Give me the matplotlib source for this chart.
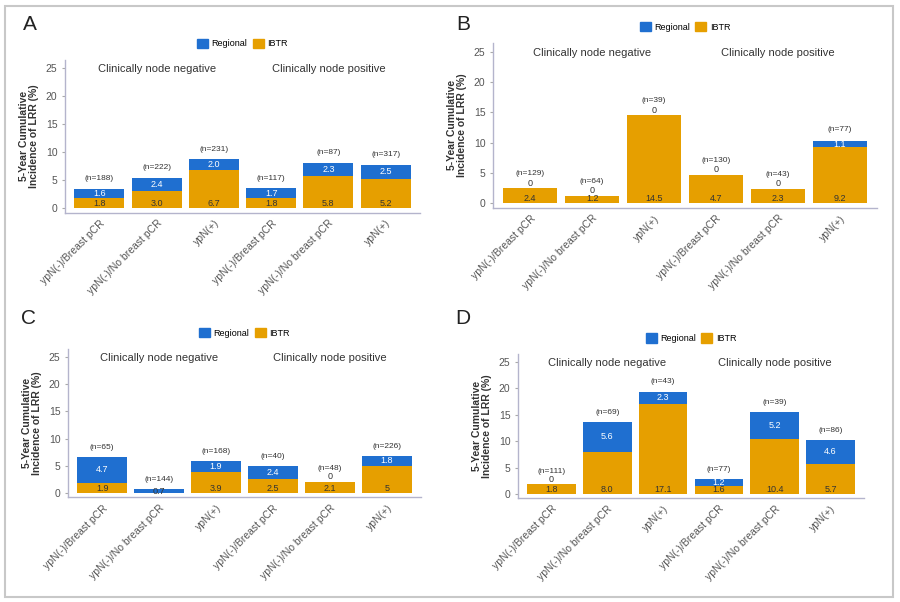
"""Four-panel stacked bar chart: 5-year cumulative incidence of LRR (IBTR + regional)."""
import matplotlib
matplotlib.use('Agg')
import matplotlib.pyplot as plt
import matplotlib.patches as patches
import numpy as np

plt.rcParams['font.family'] = ['Liberation Sans', 'DejaVu Sans']

# Data ---------------------------------------------------------------
categories = ['ypN(-)/Breast pCR', 'ypN(-)/No breast pCR', 'ypN(+)',
              'ypN(-)/Breast pCR', 'ypN(-)/No breast pCR', 'ypN(+)']
groups = ['Clinically node negative', 'Clinically node positive']

ibtr_a = [1.8, 3.0, 6.7, 1.8, 5.8, 5.2]
regional_a = [1.6, 2.4, 2.0, 1.7, 2.3, 2.5]
n_a = [188, 222, 231, 117, 87, 317]

ibtr_b = [2.4, 1.2, 14.5, 4.7, 2.3, 9.2]
regional_b = [0, 0, 0, 0, 0, 1.1]
n_b = [129, 64, 39, 130, 43, 77]

ibtr_c = [1.9, 0, 3.9, 2.5, 2.1, 5]
regional_c = [4.7, 0.7, 1.9, 2.4, 0, 1.8]
n_c = [65, 144, 168, 40, 48, 226]

ibtr_d = [1.8, 8.0, 17.1, 1.6, 10.4, 5.7]
regional_d = [0, 5.6, 2.3, 1.2, 5.2, 4.6]
n_d = [111, 69, 43, 77, 39, 86]

BLUE = '#1f6fd0'
ORANGE = '#e69f00'
W, H = 900, 602

fig = plt.figure(figsize=(9, 6.02), dpi=100)

# light outer frame
fig.patches.append(patches.Rectangle((5 / W, 5 / H), 888 / W, 591 / H,
                                     transform=fig.transFigure, fill=False,
                                     edgecolor='#c8c8c8', linewidth=1.5))


def fmt(v):
    return str(v) if isinstance(v, int) else f'{v:.1f}'


def panel(letter, ibtr, regional, n, left, right, top, bottom, letter_xy):
    ax = fig.add_axes([left / W, 1 - bottom / H, (right - left) / W, (bottom - top) / H])
    x = np.arange(len(categories))
    ax.bar(x, ibtr, width=0.87, color=ORANGE, zorder=2)
    ax.bar(x, regional, width=0.87, bottom=ibtr, color=BLUE, zorder=2)

    for i in range(len(x)):
        top_v = ibtr[i] + regional[i]
        if ibtr[i] > 0:
            ax.text(x[i], 0.8, fmt(ibtr[i]), ha='center', va='center',
                    fontsize=6.5, color='#333333', zorder=3)
        if regional[i] > 0:
            col = 'white' if regional[i] >= 1 else '#333333'
            ax.text(x[i], ibtr[i] + regional[i] / 2, fmt(regional[i]), ha='center',
                    va='center', fontsize=6.5, color=col, zorder=3)
            ax.text(x[i], top_v + 1.8, f'(n={n[i]})', ha='center', va='center',
                    fontsize=6, color='#333333')
        else:
            ax.text(x[i], top_v + 0.9, fmt(regional[i]), ha='center', va='center',
                    fontsize=6.5, color='#333333')
            ax.text(x[i], top_v + 2.4, f'(n={n[i]})', ha='center', va='center',
                    fontsize=6, color='#333333')

    for gi, g in enumerate(groups):
        ax.text(1 + 3 * gi, 24.8, g, ha='center', va='center', fontsize=8, color='#333333')

    ax.set_xlim(-0.6, 5.6)
    ax.set_ylim(-0.8, 26.5)
    ax.set_yticks([0, 5, 10, 15, 20, 25])
    ax.set_xticks(x)
    ax.set_xticklabels(categories, rotation=45, ha='right', rotation_mode='anchor',
                       fontsize=7.5, color='#555555')
    ax.tick_params(axis='y', labelsize=7.5, labelcolor='#555555', length=2,
                   color='#aaaaaa')
    ax.tick_params(axis='x', length=0, pad=4)
    for s in ['top', 'right']:
        ax.spines[s].set_visible(False)
    for s in ['left', 'bottom']:
        ax.spines[s].set_color('#b4b4cc')
        ax.spines[s].set_linewidth(1.0)
    ax.set_ylabel('5-Year Cumulative\nIncidence of LRR (%)', fontsize=7.5,
                  fontweight='bold', color='#333333', labelpad=5, linespacing=1.0)

    # legend above plot, centred on the axes
    handles = [patches.Patch(color=BLUE, label='Regional'),
               patches.Patch(color=ORANGE, label='IBTR')]
    ax.legend(handles=handles, loc='lower center', bbox_to_anchor=(0.5, 1.02),
              ncol=2, frameon=False, fontsize=6.5, handlelength=1.2,
              handleheight=1.2, handletextpad=0.4, columnspacing=0.6)

    fig.text(letter_xy[0] / W, 1 - letter_xy[1] / H, letter, fontsize=15,
             ha='center', va='center', color='#222222')


panel('A', ibtr_a, regional_a, n_a, 65, 420, 59.6, 212.5, (30, 25))
panel('B', ibtr_b, regional_b, n_b, 493, 877, 43, 207.8, (463, 25))
panel('C', ibtr_c, regional_c, n_c, 68, 421, 348.8, 497.4, (28, 318))
panel('D', ibtr_d, regional_d, n_d, 518, 864, 354, 498.2, (463, 318))

plt.savefig('out.png', dpi=100)
plt.close()
